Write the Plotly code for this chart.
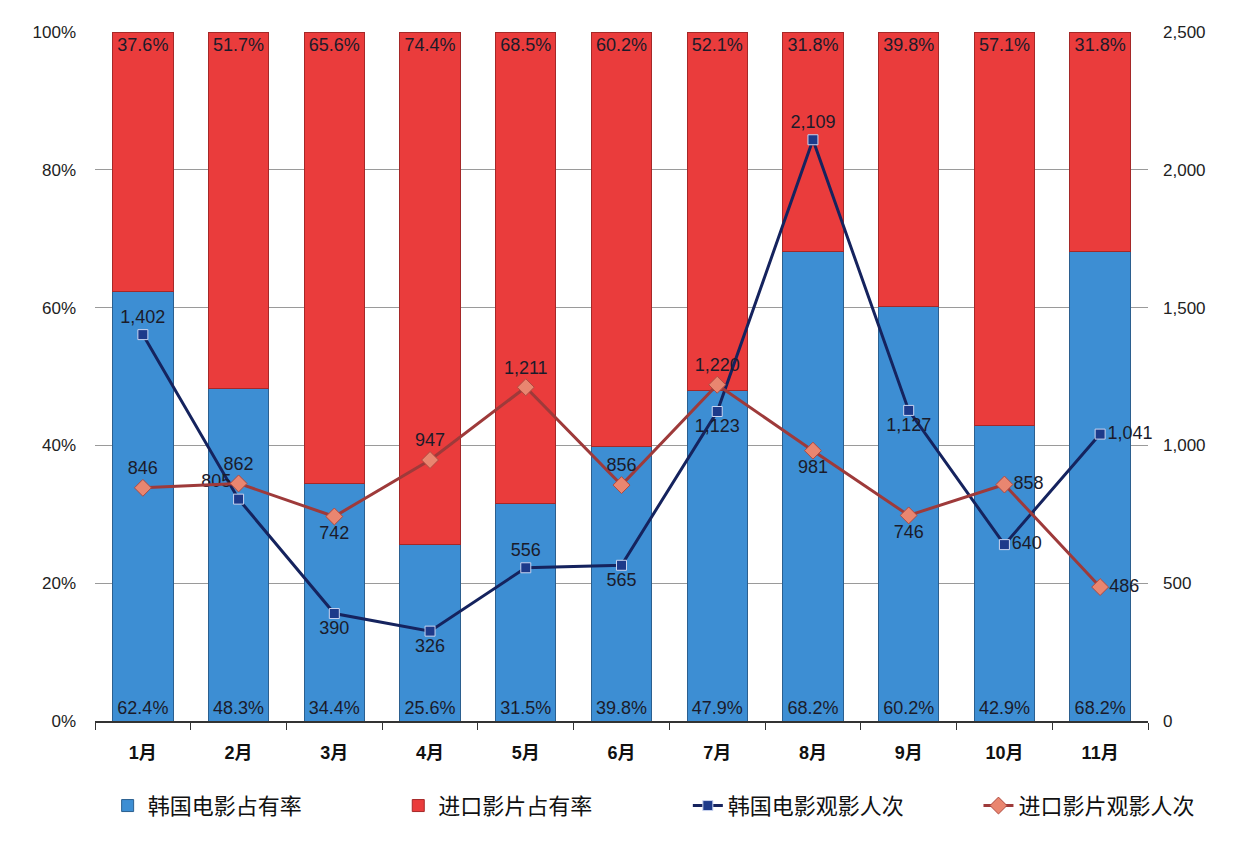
import plotly.graph_objects as go

months = ["1月", "2月", "3月", "4月", "5月", "6月", "7月", "8月", "9月", "10月", "11月"]
kr_share = [62.4, 48.3, 34.4, 25.6, 31.5, 39.8, 47.9, 68.2, 60.2, 42.9, 68.2]
im_share = [37.6, 51.7, 65.6, 74.4, 68.5, 60.2, 52.1, 31.8, 39.8, 57.1, 31.8]
kr_aud = [1402, 805, 390, 326, 556, 565, 1123, 2109, 1127, 640, 1041]
im_aud = [846, 862, 742, 947, 1211, 856, 1220, 981, 746, 858, 486]

kr_pos = ["top center", "top left", "bottom center", "bottom center", "top center", "bottom center",
          "bottom center", "top center", "bottom center", "middle right", "middle right"]
im_pos = ["top center", "top center", "bottom center", "top center", "top center", "top center",
          "top center", "bottom center", "bottom center", "middle right", "middle right"]

lab_font = dict(family="Liberation Sans, Arial", size=18, color="#1b1b2a")

fig = go.Figure()
fig.add_trace(go.Bar(
    x=months, y=[v / 100 for v in kr_share], name="韩国电影占有率", legend="legend",
    marker=dict(color="#3d8ed3", line=dict(color="#2b5f8f", width=1)),
    text=[f"{v:.1f}%" for v in kr_share], textposition="inside", insidetextanchor="start",
    textfont=lab_font, textangle=0, yaxis="y"))
fig.add_trace(go.Bar(
    x=months, y=[v / 100 for v in im_share], name="进口影片占有率", legend="legend2",
    marker=dict(color="#ea3c3c", line=dict(color="#a52828", width=1)),
    text=[f"{v:.1f}%" for v in im_share], textposition="inside", insidetextanchor="end",
    textfont=lab_font, textangle=0, yaxis="y"))
fig.add_trace(go.Scatter(
    x=months, y=kr_aud, name="韩国电影观影人次", mode="lines+markers+text", legend="legend3",
    line=dict(color="#15235e", width=3), cliponaxis=False,
    marker=dict(symbol="square", size=10, color="#1d3a8a", line=dict(color="#c9d4f0", width=1)),
    text=[f"{v:,}" for v in kr_aud], textposition=kr_pos, textfont=lab_font, yaxis="y2"))
fig.add_trace(go.Scatter(
    x=months, y=im_aud, name="进口影片观影人次", mode="lines+markers+text", legend="legend4",
    line=dict(color="#9e3a3a", width=3), cliponaxis=False,
    marker=dict(symbol="diamond", size=13, color="#e98670", line=dict(color="#b04a40", width=1)),
    text=[f"{v:,}" for v in im_aud], textposition=im_pos, textfont=lab_font, yaxis="y2"))

leg_font = dict(family="Noto Sans CJK SC", size=22, color="#111111")
def leg(xp):
    return dict(orientation="h", x=xp, y=-0.123, xanchor="left", yanchor="middle",
                font=leg_font, bgcolor="rgba(0,0,0,0)")

fig.update_layout(
    width=1240, height=847,
    margin=dict(l=95, r=92, t=32, b=126, autoexpand=False),
    paper_bgcolor="white", plot_bgcolor="white",
    barmode="stack", bargap=0.37,
    font=dict(family="Liberation Sans, Arial", size=17, color="#1a1a1a"),
    xaxis=dict(range=[-0.5, 10.5], showline=True, linecolor="#333333", linewidth=2, ticks="outside",
               tickson="boundaries", ticklen=7, tickcolor="#333333", automargin=False,
               tickfont=dict(family="Liberation Sans, Noto Sans CJK SC", size=18, color="#111111",
                             weight="bold"),
               showgrid=False, ticklabelstandoff=14),
    yaxis=dict(range=[0, 1], dtick=0.2, tickformat=".0%", showgrid=True, automargin=False,
               gridcolor="#9a9a9a", gridwidth=1, zeroline=False,
               tickfont=dict(size=17, color="#222222"), ticks="", ticklabelstandoff=18),
    yaxis2=dict(range=[0, 2500], dtick=500, tickformat=",", overlaying="y", side="right",
                showgrid=False, zeroline=False, tickfont=dict(size=17, color="#222222"),
                ticklabelstandoff=14, automargin=False),
    legend=leg(0.012),
    legend2=leg(0.288),
    legend3=leg(0.563),
    legend4=leg(0.839),
    showlegend=True,
)

fig.write_html("out.html")
